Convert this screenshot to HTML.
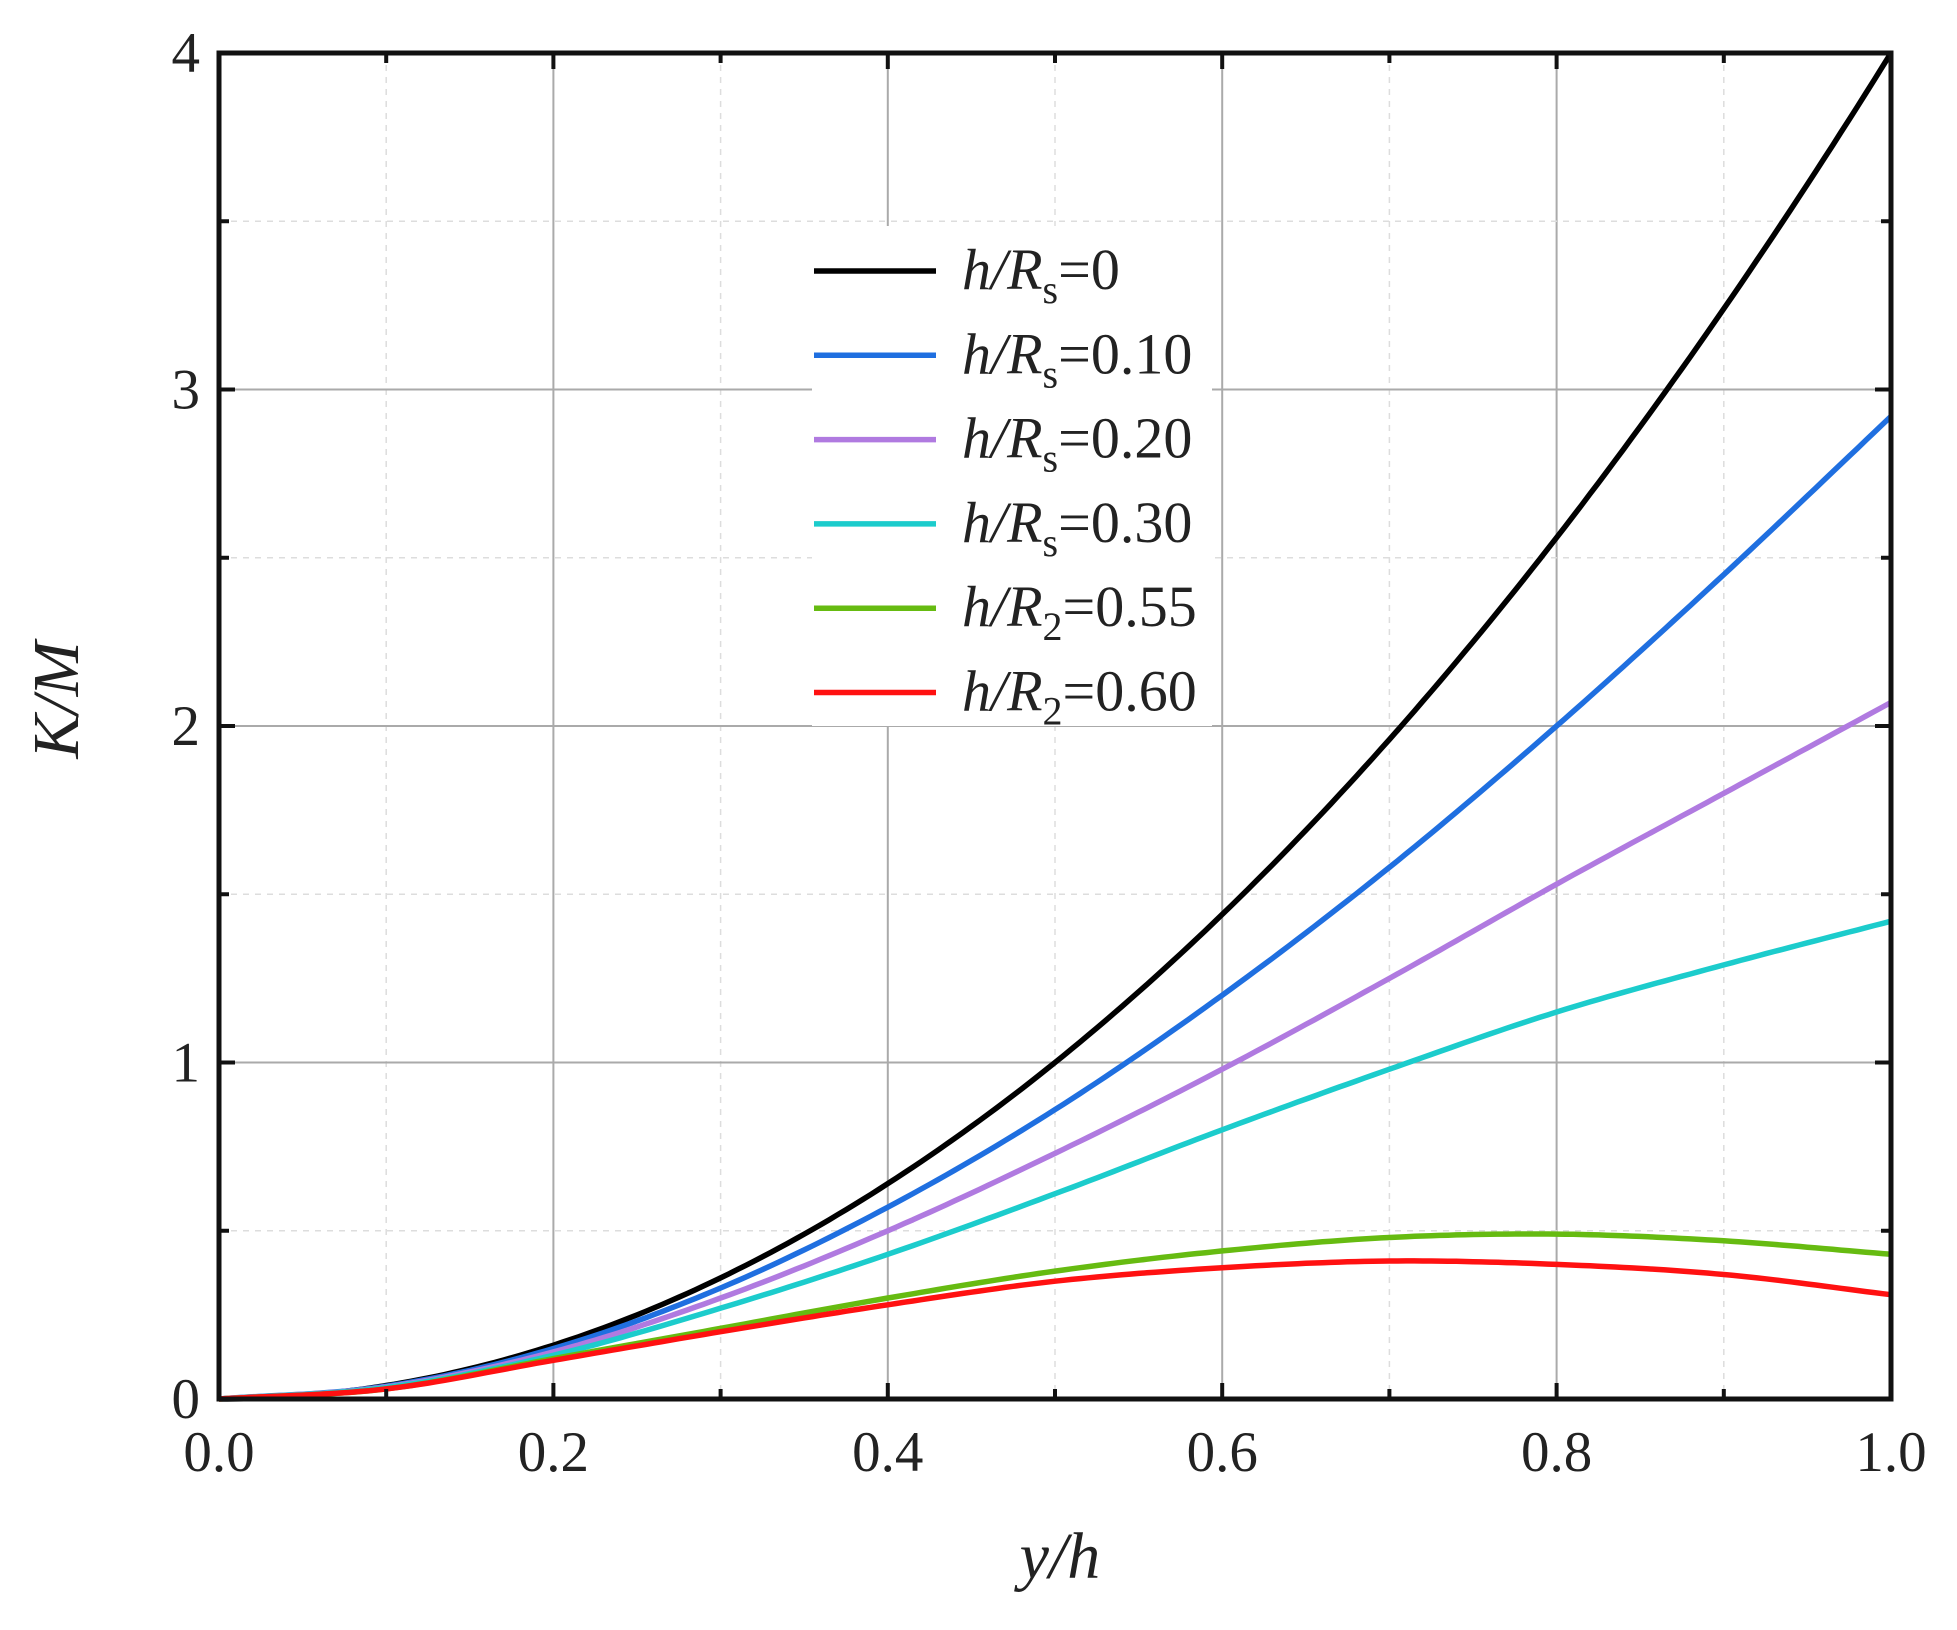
<!DOCTYPE html>
<html><head><meta charset="utf-8"><style>
html,body{margin:0;padding:0;background:#fff;}
svg{display:block;}
text{font-family:"Liberation Serif",serif;fill:#222;}
</style></head><body>
<svg id="s" width="1957" height="1630" viewBox="0 0 1957 1630" xmlns="http://www.w3.org/2000/svg">
<g id="grid"></g>
<g id="curves" fill="none" stroke-width="5.5" stroke-linejoin="round"></g>
<rect x="812" y="226" width="400" height="500" fill="#fff"/>
<g id="legend"></g>
<rect x="219" y="53" width="1672" height="1346" fill="none" stroke="#111" stroke-width="5"/>
<g id="ticks" stroke="#111" stroke-width="4"></g>
<g id="labels" font-size="57"></g>
<text x="1060" y="1578" font-size="66" font-style="italic" text-anchor="middle">y/h</text>
<text transform="translate(78,700) rotate(-90)" font-size="66" font-style="italic" text-anchor="middle">K/M</text>
</svg>
<script>
const NS="http://www.w3.org/2000/svg";
const L=219,R=1891,T=53,B=1399;
const X=v=>L+(R-L)*v, Y=v=>B-(B-T)*v/4;
function el(p,t,a,txt){const e=document.createElementNS(NS,t);for(const k in a)e.setAttribute(k,a[k]);if(txt!=null)e.textContent=txt;document.getElementById(p).appendChild(e);return e;}
for(let i=1;i<10;i++){const x=X(i/10);el('grid','line',{x1:x,x2:x,y1:T,y2:B,stroke:i%2?'#ddd':'#aaa','stroke-width':i%2?1.5:2,'stroke-dasharray':i%2?'6 6':''});}
for(let j=1;j<8;j++){const y=Y(j/2);el('grid','line',{x1:L,x2:R,y1:y,y2:y,stroke:j%2?'#ddd':'#aaa','stroke-width':j%2?1.5:2,'stroke-dasharray':j%2?'6 6':''});}
for(let i=1;i<10;i++){const x=X(i/10),l=i%2?10:16;el('ticks','line',{x1:x,x2:x,y1:B,y2:B-l});el('ticks','line',{x1:x,x2:x,y1:T,y2:T+l});}
for(let j=1;j<8;j++){const y=Y(j/2),l=j%2?10:16;el('ticks','line',{x1:L,x2:L+l,y1:y,y2:y});el('ticks','line',{x1:R,x2:R-l,y1:y,y2:y});}
for(let i=0;i<=5;i++)el('labels','text',{x:X(i/5),y:1471,'text-anchor':'middle'},(i/5).toFixed(1));
for(let j=0;j<=4;j++)el('labels','text',{x:200,y:Y(j)+19,'text-anchor':'end'},String(j));
const data=[
['#000',[0,0.04,0.16,0.36,0.64,1.0,1.44,1.96,2.56,3.24,4.0]],
['#1f6fe0',[0,0.038,0.15,0.33,0.57,0.86,1.2,1.58,2.0,2.45,2.92]],
['#b07ae0',[0,0.036,0.14,0.30,0.50,0.73,0.98,1.25,1.53,1.80,2.07]],
['#1ccccc',[0,0.034,0.13,0.27,0.43,0.61,0.80,0.98,1.15,1.29,1.42]],
['#66bb11',[0,0.03,0.12,0.21,0.30,0.38,0.44,0.48,0.49,0.47,0.43]],
['#ff1111',[0,0.03,0.115,0.20,0.28,0.35,0.39,0.41,0.40,0.37,0.31]]];
data.forEach(([c,p])=>{const q=[2*p[0]-p[1],...p,2*p[10]-p[9]];let d='';for(let k=0;k<=200;k++){const t=k/200*10;let i=Math.min(9,Math.floor(t)),u=t-i;const p0=q[i],p1=q[i+1],p2=q[i+2],p3=q[i+3];
let v=0.5*((2*p1)+(-p0+p2)*u+(2*p0-5*p1+4*p2-p3)*u*u+(-p0+3*p1-3*p2+p3)*u*u*u);
if(c=='#000')v=4*(t/10)**2;
d+=(k?'L':'M')+X(t/10).toFixed(1)+' '+Y(v).toFixed(1);}
el('curves','path',{d,stroke:c});});
const labs=[['s','0'],['s','0.10'],['s','0.20'],['s','0.30'],['2','0.55'],['2','0.60']];
labs.forEach((l,i)=>{const y=271+i*84.3;el('legend','line',{x1:814,x2:936,y1:y,y2:y,stroke:data[i][0],'stroke-width':5.5});
const t=el('legend','text',{x:962,y:y+18,'font-size':58});
const a=document.createElementNS(NS,'tspan');a.setAttribute('font-style','italic');a.textContent='h/R';t.appendChild(a);
const b=document.createElementNS(NS,'tspan');b.setAttribute('font-size','40');b.setAttribute('dy','14');b.textContent=l[0];t.appendChild(b);
const c=document.createElementNS(NS,'tspan');c.setAttribute('dy','-14');c.textContent='='+l[1];t.appendChild(c);});
</script>
</body></html>
